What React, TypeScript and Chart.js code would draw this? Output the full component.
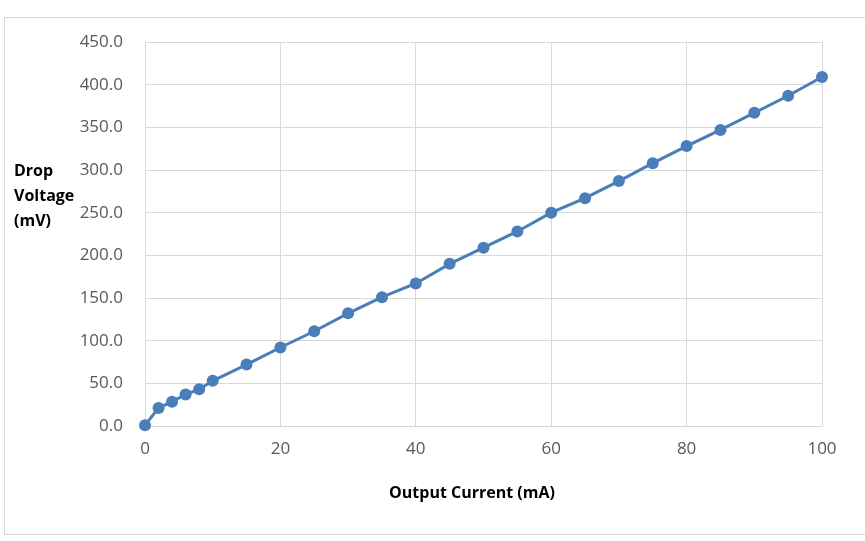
import React, { useEffect, useRef } from "react";
import { Chart, registerables } from "chart.js";

Chart.register(...registerables);

const currentMA = [0, 2, 4, 6, 8, 10, 15, 20, 25, 30, 35, 40, 45, 50, 55, 60, 65, 70, 75, 80, 85, 90, 95, 100];
const dropMV = [1, 21, 28.5, 37, 43, 53, 72, 92, 111, 132, 151, 167, 190, 209, 228, 250, 267, 287, 308, 328, 347, 367, 387, 409];
const yTitleLines = ["Drop", "Voltage", "(mV)"];
const xTitle = "Output Current (mA)";

const FONT = "'Open Sans', 'Noto Sans', sans-serif";

export default function App() {
  const ref = useRef<HTMLCanvasElement | null>(null);
  useEffect(() => {
    const canvas = ref.current;
    if (!canvas) return;
    const titlesPlugin = {
      id: "axisTitles",
      afterDraw(chart: any) {
        const ctx = chart.ctx;
        ctx.save();
        ctx.fillStyle = "#000000";
        ctx.font = `bold 16px ${FONT}`;
        ctx.textBaseline = "middle";
        ctx.textAlign = "left";
        yTitleLines.forEach((t, i) => ctx.fillText(t, 14, 171 + i * 25));
        ctx.textAlign = "center";
        ctx.fillText(xTitle, 472, 493);
        ctx.restore();
      },
    };
    const chart = new Chart(canvas, {
      type: "line",
      data: {
        datasets: [
          {
            data: currentMA.map((x, i) => ({ x, y: dropMV[i] })),
            borderColor: "#4a7ebb",
            backgroundColor: "#4a7ebb",
            borderWidth: 3,
            pointRadius: 6,
            pointHoverRadius: 6,
            pointBorderWidth: 0,
            tension: 0,
            clip: false,
          },
        ],
      },
      options: {
        animation: false,
        responsive: false,
        maintainAspectRatio: false,
        layout: { padding: { top: 42, right: 43, left: 0, bottom: 0 } },
        plugins: { legend: { display: false }, tooltip: { enabled: false } },
        scales: {
          x: {
            type: "linear",
            min: 0,
            max: 100,
            ticks: { stepSize: 20, color: "#595959", font: { family: FONT, size: 17 }, padding: 13 },
            grid: { color: "#d9d9d9", drawTicks: false },
            border: { color: "#d9d9d9" },
            afterFit(scale: any) {
              scale.height = 115;
            },
          },
          y: {
            min: 0,
            max: 450,
            ticks: {
              stepSize: 50,
              color: "#595959",
              font: { family: FONT, size: 17 },
              padding: 22,
              callback: (v: any) => Number(v).toFixed(1),
            },
            grid: { color: "#d9d9d9", drawTicks: false },
            border: { color: "#d9d9d9" },
            afterFit(scale: any) {
              scale.width = 145;
            },
          },
        },
      },
      plugins: [titlesPlugin],
    });
    return () => chart.destroy();
  }, []);
  return (
    <div style={{ position: "fixed", left: 0, top: 0, width: 865, height: 541, background: "#fff" }}>
      <div
        style={{
          position: "absolute",
          left: 4,
          top: 17,
          width: 880,
          height: 518,
          border: "1px solid #d9d9d9",
          boxSizing: "border-box",
        }}
      />
      <canvas ref={ref} width={865} height={541} style={{ position: "absolute", left: 0, top: 0, width: 865, height: 541 }} />
    </div>
  );
}
